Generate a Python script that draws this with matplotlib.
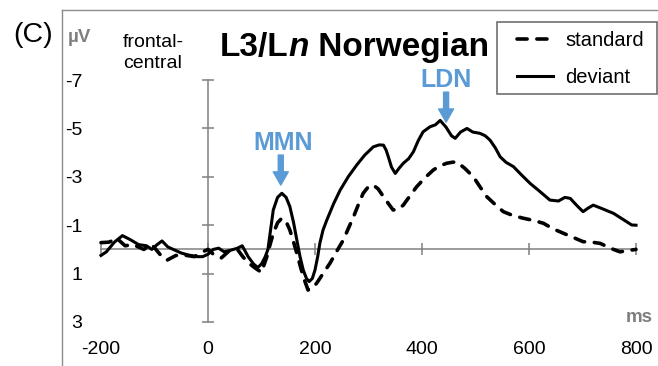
import matplotlib.pyplot as plt
from matplotlib.lines import Line2D
from matplotlib.patches import Rectangle

plt.rcParams['font.family'] = ['Liberation Sans', 'DejaVu Sans']

# grand-average ERP, frontal-central, negative up
ms_std = [-200, -185, -170, -155, -140, -120, -105, -90, -77, -60, -40, -25, -10, 0,
          10, 25, 40, 55, 65, 75, 90, 100, 110, 116, 122, 130, 138, 146, 153, 160,
          166, 172, 178, 187, 195, 203, 215, 228, 240, 253, 262, 272, 281, 290,
          300, 309, 318, 328, 337, 346, 355, 365, 377, 390, 405, 421, 433, 446,
          456, 465, 480, 496, 508, 521, 537, 552, 570, 589, 608, 627, 645, 664,
          682, 701, 717, 733, 752, 770, 785, 800]
uv_std = [-0.28, -0.3, -0.45, -0.15, -0.2, 0.0, -0.2, 0.2, 0.45, 0.25, 0.25, 0.3, 0.1, 0.0,
          0.2, 0.35, 0.05, 0.0, 0.3, 0.55, 0.8, 0.95, 0.3, -0.2, -0.66, -1.1, -1.29, -1.15, -0.8, -0.3,
          0.16, 0.65, 1.13, 1.68, 1.6, 1.4, 1.0, 0.57, 0.1, -0.39, -0.85, -1.35, -1.85, -2.32,
          -2.6, -2.66, -2.5, -2.18, -1.9, -1.63, -1.65, -1.83, -2.2, -2.59, -2.95, -3.28, -3.45, -3.56,
          -3.6, -3.62, -3.35, -3.0, -2.6, -2.18, -1.85, -1.56, -1.4, -1.29, -1.2, -1.08, -0.85, -0.67,
          -0.5, -0.32, -0.3, -0.25, -0.05, 0.1, 0.05, 0.0]

ms_dev = [-200, -190, -175, -160, -145, -130, -115, -105, -95, -86, -75, -65, -50, -37,
          -20, -10, 0, 10, 20, 30, 40, 55, 64, 75, 85, 93, 100, 107, 112, 122,
          130, 138, 146, 153, 160, 166, 172, 178, 184, 189, 195, 200, 205, 209,
          215, 222, 235, 247, 262, 278, 293, 309, 320, 328, 333, 337, 343, 350,
          357, 365, 375, 384, 393, 402, 415, 425, 434, 445, 455, 462, 472, 484,
          495, 508, 518, 527, 537, 546, 557, 571, 585, 602, 620, 639, 655, 667,
          677, 690, 701, 710, 720, 735, 758, 775, 792, 800]
uv_dev = [0.25, 0.1, -0.3, -0.57, -0.4, -0.2, -0.15, 0.0, -0.2, -0.35, -0.1, 0.0, 0.15, 0.23,
          0.3, 0.3, 0.2, 0.0, -0.05, 0.1, 0.05, -0.05, -0.15, 0.3, 0.6, 0.75, 0.6, 0.3, 0.0, -1.63,
          -2.15, -2.32, -2.15, -1.77, -1.1, -0.39, 0.3, 0.85, 1.2, 1.33, 1.2, 0.85, 0.3, -0.25,
          -0.8, -1.21, -1.9, -2.45, -3.0, -3.49, -3.9, -4.24, -4.32, -4.31, -4.1, -3.83, -3.4, -3.14,
          -3.35, -3.56, -3.75, -4.04, -4.5, -4.86, -5.07, -5.15, -5.33, -5.05, -4.7, -4.59, -4.85, -5.0,
          -4.85, -4.8, -4.7, -4.52, -4.2, -3.83, -3.6, -3.42, -3.1, -2.73, -2.4, -2.04, -2.0, -2.15,
          -2.11, -1.8, -1.56, -1.7, -1.83, -1.7, -1.49, -1.25, -1.01, -1.0]

xticks = [-200, 0, 200, 400, 600, 800]
xtick_labels = ['-200', '0', '200', '400', '600', '800']
yticks = [-7, -5, -3, -1, 1, 3]
ytick_labels = ['-7', '-5', '-3', '-1', '1', '3']

blue = '#5B9BD5'
gray = '#808080'

fig = plt.figure(figsize=(6.58, 3.66), dpi=100)
ax = fig.add_axes([0, 0, 1, 1])
ax.patch.set_visible(False)
ax.set_xlim(-388.8, 841.1)
ax.set_ylim(4.82, -10.31)

ax.plot(ms_std, uv_std, color='black', lw=2.6, linestyle=(0, (2.8, 2.7)),
        dash_capstyle='round', label='standard', zorder=3)
ax.plot(ms_dev, uv_dev, color='black', lw=2.2, solid_joinstyle='round',
        label='deviant', zorder=3)

# axes crossing at zero
for side in ['top', 'right']:
    ax.spines[side].set_visible(False)
ax.spines['left'].set_position(('data', 0))
ax.spines['bottom'].set_position(('data', 0))
ax.spines['left'].set_bounds(-7, 3)
ax.spines['bottom'].set_bounds(-200, 800)
for side in ['left', 'bottom']:
    ax.spines[side].set_color(gray)
    ax.spines[side].set_linewidth(1.1)

ax.set_xticks(xticks, labels=xtick_labels)
ax.set_yticks(yticks, labels=ytick_labels)
ax.tick_params(axis='both', direction='inout', length=8.6, width=1.1, color=gray,
               labelsize=14, labelcolor='black')
ax.tick_params(axis='x', pad=61.4)
ax.tick_params(axis='y', pad=86.4)

# legend entries without frame, box drawn separately
ax.legend(loc='upper left', bbox_to_anchor=(517 / 658, 1 - 31 / 366),
          bbox_transform=fig.transFigure, borderaxespad=0, borderpad=0, fontsize=14.5,
          handlelength=1.8, handletextpad=0.6, labelspacing=0.9, frameon=False)
fig.add_artist(Rectangle((497 / 658, 1 - 94 / 366), 160 / 658, 72 / 366,
                         transform=fig.transFigure, fill=False, edgecolor='#6f6f6f', lw=1.2))

# component labels
ax.annotate('', xy=(136, -2.66), xytext=(136, -3.9),
            arrowprops=dict(color=blue, width=3.6, headwidth=10.8, headlength=9.5, shrink=0))
ax.text(140, -4.1, 'MMN', color=blue, fontsize=18, weight='bold', ha='center', va='baseline')
ax.annotate('', xy=(445, -5.26), xytext=(445, -6.5),
            arrowprops=dict(color=blue, width=3.6, headwidth=10.8, headlength=9.5, shrink=0))
ax.text(445, -6.71, 'LDN', color=blue, fontsize=18, weight='bold', ha='center', va='baseline')

# title pieces
t1 = fig.text(220 / 658, 1 - 56 / 366, 'L3/L', fontsize=24, weight='bold', va='baseline')
t2 = ax.annotate('n', xy=(1, 0), xycoords=t1, va='bottom', fontsize=24,
                 weight='bold', style='italic')
ax.annotate(' Norwegian', xy=(1, 0), xycoords=t2, va='bottom', fontsize=24, weight='bold')

fig.text(13 / 658, 1 - 42 / 366, '(C)', fontsize=20.5, va='baseline')
fig.text(68 / 658, 1 - 42 / 366, 'µV', fontsize=13.5, weight='bold', color='#7f7f7f', va='baseline')
fig.text(123 / 658, 1 - 47 / 366, 'frontal-', fontsize=14, va='baseline')
fig.text(123 / 658, 1 - 68 / 366, 'central', fontsize=14, va='baseline')
fig.text(653 / 658, 1 - 322 / 366, 'ms', fontsize=13.5, weight='bold', color='#7f7f7f',
         ha='right', va='baseline')

# outer frame of the panel
fx, fy = 62 / 658, 1 - 10 / 366
fig.add_artist(Line2D([fx, fx], [0, fy], transform=fig.transFigure, color='#8c8c8c', lw=1))
fig.add_artist(Line2D([fx, 1], [fy, fy], transform=fig.transFigure, color='#8c8c8c', lw=1))

fig.savefig('out.png', dpi=100)
